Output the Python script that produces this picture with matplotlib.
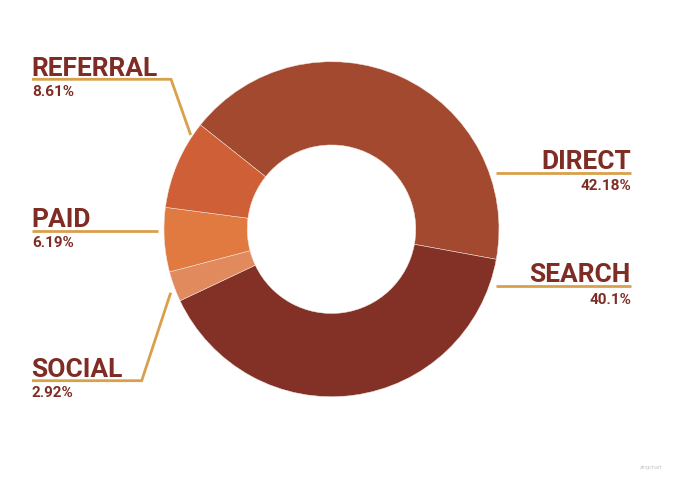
import matplotlib
matplotlib.use("Agg")
from matplotlib import pyplot as plt

# datos del grafico
canales = ['DIRECT', 'SEARCH', 'SOCIAL', 'PAID', 'REFERRAL']
valores = [42.18, 40.1, 2.92, 6.19, 8.61]
etiquetas_pct = ['42.18%', '40.1%', '2.92%', '6.19%', '8.61%']
colores = ['#a3492f', '#833027', '#e08a5e', '#e07a40', '#cf5f36']

W, H = 679, 478
txt_color = '#7f2d24'
line_color = '#d9a04c'
plt.rcParams['font.family'] = ['Roboto', 'DejaVu Sans']

fig = plt.figure(figsize=(W / 100, H / 100), dpi=100)
ax = fig.add_axes([0, 0, 1, 1])

cx, cy, R = 331.5, H - 229.2, 167.5
ax.pie(valores, colors=colores, startangle=141.5, counterclock=False,
       center=(cx, cy), radius=R,
       wedgeprops=dict(width=R * 0.497, edgecolor='#f3e6e0', linewidth=0.35))
ax.set_xlim(0, W)
ax.set_ylim(0, H)
ax.set_aspect('auto')
ax.axis('off')

def y(p):
    return H - p

# etiquetas a la derecha: (indice, y de la linea)
for i, yl in [(0, 172.7), (1, 286.0)]:
    ax.plot([496, 631], [y(yl), y(yl)], color=line_color, lw=2, solid_capstyle='butt')
    ax.text(631, y(yl - 3.5), canales[i], ha='right', va='baseline',
            fontsize=19, fontweight='bold', color=txt_color)
    ax.text(631, y(yl + 17.5), etiquetas_pct[i], ha='right', va='baseline',
            fontsize=11, fontweight='bold', color=txt_color)

# etiquetas a la izquierda: (indice, y de la linea, puntos de la guia)
izq = [
    (4, 79.3, [(32, 79.3), (171, 79.3), (190.7, 135)]),
    (3, 230.7, [(32, 230.7), (158.3, 230.7)]),
    (2, 380.7, [(32, 380.7), (141.7, 380.7), (170.7, 292.7)]),
]
for i, yl, pts in izq:
    xs = [p[0] for p in pts]
    ys = [y(p[1]) for p in pts]
    ax.plot(xs, ys, color=line_color, lw=2, solid_joinstyle='miter', solid_capstyle='butt')
    ax.text(31, y(yl - 3.5), canales[i], ha='left', va='baseline',
            fontsize=19, fontweight='bold', color=txt_color)
    ax.text(32, y(yl + 16.5), etiquetas_pct[i], ha='left', va='baseline',
            fontsize=11, fontweight='bold', color=txt_color)

ax.text(662, y(469), 'zingchart', ha='right', va='baseline', fontsize=4, color='#c8c8c8')

fig.savefig('out.png', dpi=100)
